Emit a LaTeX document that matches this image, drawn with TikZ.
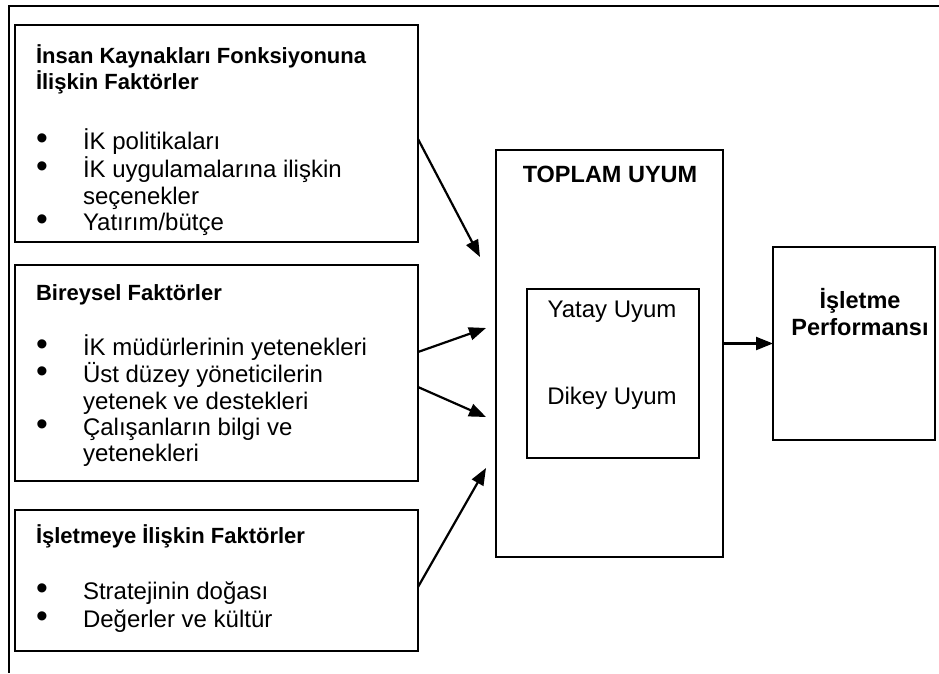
\documentclass[tikz,border=0pt]{standalone}
\usepackage{fontspec}
\setmainfont{Liberation Sans}
\usetikzlibrary{arrows.meta}
\newcommand{\madde}{\scalebox{1.4}{\textbullet}}

\begin{document}
\begin{tikzpicture}[x=1pt,y=-1pt,
  box/.style={draw,line width=2pt,inner sep=0,outer sep=0,anchor=north west},
  txt/.style={inner sep=0,outer sep=0,anchor=base west,font=\fontsize{24}{26.3}\selectfont},
  bas/.style={txt,font=\fontsize{22}{26}\selectfont\bfseries},
  arr/.style={line width=2.2pt,-{Triangle[length=17pt,width=13pt]}}]
\useasboundingbox (0,0) rectangle (939,673);
\draw[line width=2.4pt] (939,6) -- (9,6) -- (9,673);
% factor boxes
\node[box,minimum width=403pt,minimum height=217pt] (fonk) at (15,25) {};
\node[box,minimum width=403pt,minimum height=216pt] (birey) at (15,265) {};
\node[box,minimum width=403pt,minimum height=141pt] (isl) at (15,510) {};
\node[bas] (fonkbas) at (36,63) {\begin{tabular}[t]{@{}l@{}}İnsan Kaynakları Fonksiyonuna\\İlişkin Faktörler\end{tabular}};
\node[txt] (fonkmad) at (36,149) {\begin{tabular}[t]{@{}p{47pt}@{}l@{}}\madde & İK politikaları\\
  \madde & İK uygulamalarına ilişkin\\
  & seçenekler\\
  \madde & Yatırım/bütçe\end{tabular}};
\node[bas] (bireybas) at (36,300) {Bireysel Faktörler};
\node[txt] (bireymad) at (36,355) {\begin{tabular}[t]{@{}p{47pt}@{}l@{}}\madde & İK müdürlerinin yetenekleri\\
  \madde & Üst düzey yöneticilerin\\
  & yetenek ve destekleri\\
  \madde & Çalışanların bilgi ve\\
  & yetenekleri\end{tabular}};
\node[bas] (islbas) at (36,543) {İşletmeye İlişkin Faktörler};
\node[txt] (islmad) at (36,599) {\begin{tabular}[t]{@{}p{47pt}@{}l@{}}\madde & Stratejinin doğası\\[2.5pt]
  \madde & Değerler ve kültür\end{tabular}};
% fit and performance
\node[box,minimum width=227pt,minimum height=407pt] (toplam) at (496,150) {};
\node[box,line width=1.6pt,minimum width=172pt,minimum height=169pt] (uyum) at (527,289) {};
\node[box,minimum width=162pt,minimum height=193pt] (perf) at (773,247) {};
\node[txt,anchor=base,font=\fontsize{23.5}{26}\selectfont\bfseries] (toplambas) at (610,182) {TOPLAM UYUM};
\node[txt,anchor=base] (yatay) at (612,317) {Yatay Uyum};
\node[txt,anchor=base] (dikey) at (612,404) {Dikey Uyum};
\node[txt,anchor=base,font=\fontsize{23.5}{27}\selectfont\bfseries] (perfbas) at (860,308) {\begin{tabular}[t]{@{}c@{}}İşletme\\Performansı\end{tabular}};
% arrows
\coordinate (g1) at (480,257);
\coordinate (g2) at (486,328);
\coordinate (g3) at (486,417);
\coordinate (g4) at (486,468);
\draw[arr] ([yshift=-5.5pt]fonk.east) -- (g1);
\draw[arr] ([yshift=21pt]birey.east) -- (g2);
\draw[arr] ([yshift=-14pt]birey.east) -- (g3);
\draw[arr] ([yshift=-6.5pt]isl.east) -- (g4);
\draw[arr] (toplam.east |- perf.west) -- (perf.west);
\end{tikzpicture}
\end{document}
